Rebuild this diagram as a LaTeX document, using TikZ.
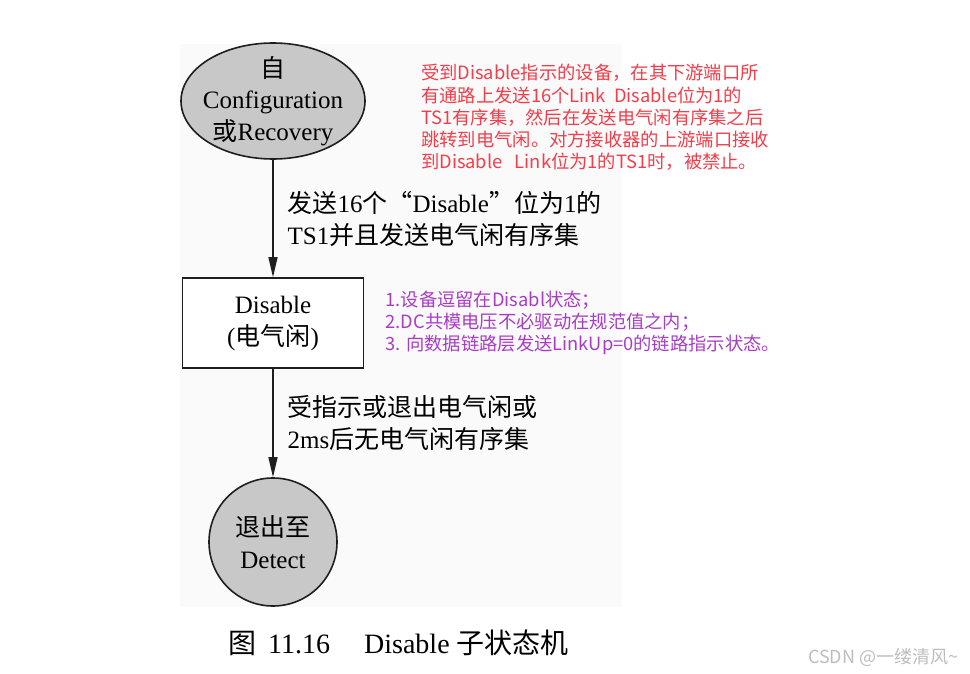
\documentclass[tikz,border=0pt]{standalone}
\usepackage{fontspec}
\setmainfont{Liberation Serif}
\newfontfamily\cjk{Noto Sans CJK SC}
\newfontfamily\notefont{Noto Sans CJK SC}
\usetikzlibrary{positioning,arrows.meta,shapes.geometric}
\definecolor{ink}{HTML}{1E1E1E}
\definecolor{stategray}{HTML}{C8C8C8}
\definecolor{scan}{HTML}{FAFAFA}
\definecolor{notered}{HTML}{F23D4A}
\definecolor{notepurple}{HTML}{A93CC6}
\definecolor{wmgray}{HTML}{BDBDBD}
\newcommand{\zh}[1]{{\cjk #1}}
\tikzset{
  oval/.style  ={ellipse, draw=ink, line width=1.6pt, fill=stategray, align=center, inner sep=-8pt,
                 minimum width=184pt, minimum height=116pt, font=\fontsize{25}{31.5}\selectfont},
  round/.style ={circle, draw=ink, line width=1.6pt, fill=stategray, align=center, inner sep=0pt,
                 minimum size=128pt, font=\fontsize{25}{32}\selectfont},
  sbox/.style  ={draw=ink, line width=1.6pt, fill=white, align=center, inner sep=0pt,
                 minimum width=181pt, minimum height=90pt, font=\fontsize{25}{32}\selectfont},
  flow/.style  ={draw=ink, line width=1.3pt, -{Triangle[length=20pt,width=9pt]}},
  lbl/.style   ={align=left, inner sep=0pt, font=\fontsize{25}{32}\selectfont},
  note/.style  ={align=left, inner sep=0pt, anchor=west, font=\notefont\fontsize{18.3}{22.2}\selectfont},
}

\begin{document}
\begin{tikzpicture}[x=1pt,y=-1pt]
    \useasboundingbox (0,0) rectangle (970,674);
    \fill[scan] (180,44) rectangle (622,607);

    \node[oval] (src) at (273,101)
      {\zh{自}\\ Configuration\\ \zh{或}Recovery};
    \node[sbox] (dis) at (273,323)
      {Disable\\ (\zh{电气闲})};
    \node[round] (det) at (273,542)
      {\zh{退出至}\\ Detect};

    \draw[flow] (src.south) -- node[lbl,right=14pt]
      {\zh{发送}16\zh{个“}Disable\zh{”位为}1\zh{的}\\ TS1\zh{并且发送电气闲有序集}} (dis.north);
    \draw[flow] (dis.south) -- node[lbl,right=14pt]
      {\zh{受指示或退出电气闲或}\\ 2ms\zh{后无电气闲有序集}} (det.north);

    \node[note,text=notered] (why) at (421,117.5)
      {受到Disable指示的设备，在其下游端口所\\ 有通路上发送16个Link~~Disable位为1的\\
       TS1有序集，然后在发送电气闲有序集之后\\ 跳转到电气闲。对方接收器的上游端口接收\\
       到Disable~~~Link位为1的TS1时，被禁止。};
    \node[note,text=notepurple,right=21pt of dis] (what)
      {1.设备逗留在Disabl状态；\\ 2.DC共模电压不必驱动在规范值之内；\\ 3. 向数据链路层发送LinkUp=0的链路指示状态。};

    \node[anchor=west, inner sep=0pt, font=\fontsize{28}{30}\selectfont] (cap) at (228,643)
      {\zh{图}\hspace{12pt}11.16\hspace{34pt}Disable\hspace{7pt}\zh{子状态机}};
    \node[anchor=west, inner sep=0pt, text=wmgray, font=\notefont\fontsize{18}{20}\selectfont] (wm) at (808,657)
      {CSDN @一缕清风\textasciitilde};
  \end{tikzpicture}
\end{document}
